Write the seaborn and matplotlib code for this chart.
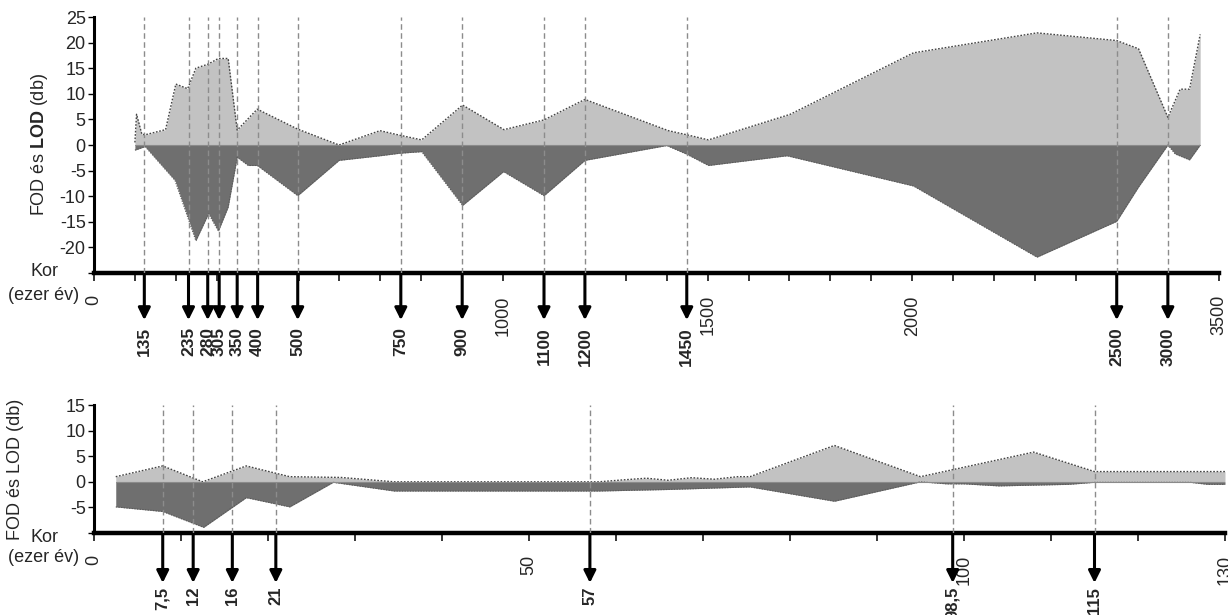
import numpy as np
import matplotlib
matplotlib.use("Agg")
import matplotlib.pyplot as plt
import seaborn as sns

# ---------------- data ----------------
# upper panel: age in thousand years (0-3500)
fod_top_x = [100, 104, 117, 125, 175, 200, 229, 249, 279, 304, 328, 350, 399, 498, 599, 699,
             748, 801, 901, 1002, 1100, 1200, 1404, 1449, 1502, 1702, 2003, 2305, 2500, 2713,
             3000, 3120, 3212, 3316]
fod_top_y = [0.5, 6.0, 2.1, 2.0, 3.0, 11.9, 11.0, 15.0, 15.8, 16.9, 16.9, 2.9, 7.0, 3.1, 0.0, 2.8,
             1.9, 1.0, 7.8, 3.0, 4.9, 8.9, 2.8, 2.0, 1.0, 6.0, 18.0, 21.9, 20.4, 18.8,
             5.4, 10.9, 10.9, 21.6]
lod_top_x = [100, 125, 198, 249, 280, 304, 328, 350, 377, 399, 498, 599, 699, 748, 801, 901,
             1001, 1100, 1200, 1400, 1449, 1502, 1694, 2003, 2305, 2500, 2713, 3000, 3072,
             3212, 3316]
lod_top_y = [-1.0, -0.3, -6.9, -18.7, -13.4, -16.8, -12.1, -2.4, -4.0, -4.0, -9.9, -3.0, -2.1,
             -1.6, -1.3, -11.8, -5.2, -9.9, -3.0, -0.1, -1.8, -4.0, -2.1, -8.0, -21.9, -14.9,
             -8.2, 0.0, -1.75, -2.9, 0.0]
top_marker_x = [123, 231, 278, 306, 350, 400, 498, 750, 900, 1100, 1200, 1449, 2500, 3000]
top_marker_labels = ["135", "235", "280", "305", "350", "400", "500", "750", "900", "1100",
                     "1200", "1450", "2500", "3000"]
top_tick_values = list(range(0, 2501, 100)) + [3000, 3500]
top_tick_labels = {0: "0", 1000: "1000", 1500: "1500", 2000: "2000", 3500: "3500"}
top_yticks = [-25, -20, -15, -10, -5, 0, 5, 10, 15, 20, 25]

# lower panel: age in thousand years (0-130)
fod_bot_x = [2.5, 7.9, 12.5, 17.5, 22.5, 28.4, 34.5, 58, 61, 63.5, 66, 68.7, 71.3, 74, 75.4,
             85.1, 95, 108, 115, 130]
fod_bot_y = [1.0, 3.1, 0.0, 3.1, 1.0, 0.85, 0.0, 0.0, 0.4, 0.7, 0.3, 0.8, 0.5, 1.0, 1.0,
             7.1, 1.0, 5.8, 2.0, 2.0]
lod_bot_x = [2.5, 7.9, 12.6, 17.5, 22.5, 27.5, 34.5, 58, 66, 75.4, 85.1, 95, 98, 100, 104,
             112, 115, 126, 128, 130]
lod_bot_y = [-4.9, -5.8, -8.9, -3.1, -4.9, -0.1, -1.8, -1.8, -1.5, -1.0, -3.8, 0.0, -0.4,
             -0.4, -0.8, -0.5, -0.1, -0.1, -0.5, -0.5]
bot_marker_x = [7.9, 11.4, 15.9, 20.9, 57, 98.7, 115]
bot_marker_labels = ["7,5", "12", "16", "21", "57", "98,5", "115"]
bot_tick_values = list(range(0, 131, 10))
bot_tick_labels = {0: "0", 50: "50", 100: "100", 130: "130"}
bot_yticks = [-10, -5, 0, 5, 10, 15]

# ---------------- style ----------------
sns.set_style("ticks")
plt.rcParams['font.family'] = ['Liberation Sans', 'DejaVu Sans']
plt.rcParams['mathtext.fontset'] = 'custom'
plt.rcParams['mathtext.rm'] = 'Liberation Sans'
plt.rcParams['mathtext.bf'] = 'Liberation Sans:bold'

LIGHT = "#c2c2c2"
DARK = "#6f6f6f"

W, H = 1228, 615
fig = plt.figure(figsize=(W / 100, H / 100), dpi=100)


def rect(x0, y0, x1, y1):
    return [x0 / W, 1 - y1 / H, (x1 - x0) / W, (y1 - y0) / H]


ax1 = fig.add_axes(rect(94, 17, 1219, 273))
ax2 = fig.add_axes(rect(94, 405, 1225, 533))


def fwd(x):
    x = np.asarray(x, float)
    return np.where(x <= 2500, x, 2500 + (x - 2500) / 4.0)


def inv(t):
    t = np.asarray(t, float)
    return np.where(t <= 2500, t, 2500 + (t - 2500) * 4.0)


ax1.set_xscale('function', functions=(fwd, inv))


def draw(ax, fx, fy, lx, ly, mx, mlab, xlim, ylim, yticks, xt, xtl,
         ylabel, label_x, arrow_tip, lab_y, lab_size):
    ax.fill_between(fx, 0, fy, color=LIGHT, lw=0, zorder=1)
    ax.fill_between(lx, 0, ly, color=DARK, lw=0, zorder=2)
    sns.lineplot(x=fx, y=fy, ax=ax, color="#444444", lw=1.0, linestyle=(0, (1.2, 1.2)),
                 sort=False, estimator=None, zorder=3)
    sns.lineplot(x=lx, y=ly, ax=ax, color="#5a5a5a", lw=0.8, linestyle=(0, (1.2, 1.2)),
                 sort=False, estimator=None, zorder=3)
    ax.plot([min(fx[0], lx[0]), max(fx[-1], lx[-1])], [0, 0], color="#8a8a8a", lw=0.8, zorder=3)
    for x, lab in zip(mx, mlab):
        ax.axvline(x, color="#8c8c8c", lw=1.0, ls=(0, (4, 2.5)), zorder=4)
        ax.annotate("", xy=(x, arrow_tip), xycoords=('data', 'axes fraction'),
                    xytext=(x, 0), textcoords=('data', 'axes fraction'),
                    arrowprops=dict(arrowstyle='-|>', color='black', lw=2.2,
                                    mutation_scale=18, shrinkA=0, shrinkB=0),
                    annotation_clip=False)
        ax.annotate(lab, xy=(x, lab_y), xycoords=('data', 'axes fraction'),
                    rotation=90, ha='center', va='top', fontsize=lab_size,
                    fontweight='bold', annotation_clip=False)
    ax.set_xlim(*xlim)
    ax.set_ylim(*ylim)
    ax.set_yticks(yticks, ["" if v == ylim[0] else str(v) for v in yticks])
    ax.set_xticks(xt, [xtl.get(v, "") for v in xt])
    ax.tick_params(axis='y', left=True, length=4, width=1, color='black', labelsize=13, pad=2)
    ax.tick_params(axis='x', bottom=True, length=6, width=1.1, color='black', labelsize=13,
                   labelrotation=90, pad=10)
    for s in ['top', 'right']:
        ax.spines[s].set_visible(False)
    ax.spines['left'].set_linewidth(2.2)
    ax.spines['bottom'].set_linewidth(3.2)
    ax.spines['left'].set_color('black')
    ax.spines['bottom'].set_color('black')
    ax.set_ylabel(ylabel, fontsize=13)
    ax.yaxis.set_label_coords(label_x, 0.5)
    ax.set_xlabel("")
    if ax.get_legend():
        ax.get_legend().remove()


draw(ax1, fod_top_x, fod_top_y, lod_top_x, lod_top_y, top_marker_x, top_marker_labels,
     (0, 3500), (-25, 25), top_yticks, top_tick_values, top_tick_labels,
     r"FOD és $\mathbf{LOD}$ (db)", -0.039, -0.184, -0.211, 12.5)
draw(ax2, fod_bot_x, fod_bot_y, lod_bot_x, lod_bot_y, bot_marker_x, bot_marker_labels,
     (0, 130), (-10, 15), bot_yticks, bot_tick_values, bot_tick_labels,
     "FOD és LOD (db)", -0.062, -0.39, -0.42, 12)

fig.text(44 / W, 1 - 272 / H, "Kor", ha='center', va='center', fontsize=13)
fig.text(44 / W, 1 - 296 / H, "(ezer év)", ha='center', va='center', fontsize=13)
fig.text(45 / W, 1 - 537 / H, "Kor", ha='center', va='center', fontsize=13)
fig.text(44 / W, 1 - 558 / H, "(ezer év)", ha='center', va='center', fontsize=13)

fig.savefig("out.png", dpi=100)
